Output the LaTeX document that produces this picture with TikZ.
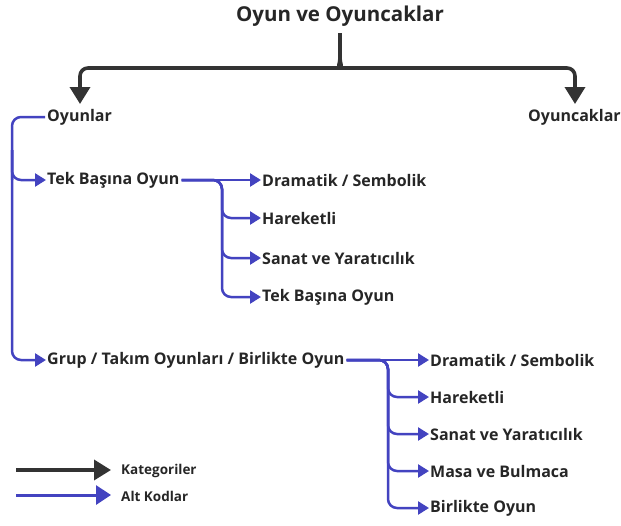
\documentclass[tikz,border=0pt]{standalone}
\usepackage{fontspec}
\setmainfont{Open Sans}
\usetikzlibrary{arrows.meta}
\definecolor{catcol}{HTML}{333333}
\definecolor{subcol}{HTML}{4343C0}
\tikzset{
  lbl/.style={anchor=west, inner sep=0pt, font=\bfseries\fontsize{16}{18}\selectfont, text=black!85},
  ttl/.style={inner sep=0pt, font=\bfseries\fontsize{20.5}{24}\selectfont, text=black!85},
  leg/.style={anchor=west, inner sep=0pt, font=\bfseries\fontsize{13.5}{15}\selectfont, text=black!85},
  catarrow/.style={draw=catcol, line width=3.6pt, rounded corners=8pt, -{Triangle[length=17pt,width=20pt]}},
  catline/.style={draw=catcol, line width=3.6pt},
  subarrow/.style={draw=subcol, line width=2.5pt, rounded corners=9pt, -{Triangle[length=11pt,width=13pt]}},
  subline/.style={draw=subcol, line width=2.5pt, rounded corners=9pt}
}
\begin{document}
\begin{tikzpicture}[x=1pt,y=-1pt]
\useasboundingbox (0,0) rectangle (621,525);
% nodes
\node[ttl] (root) at (340,16) {Oyun ve Oyuncaklar};
\node[lbl] (oyunlar) at (47,117) {Oyunlar};
\node[lbl] (oyuncak) at (528,117) {Oyuncaklar};
\coordinate (oyunlarTop) at (80,104);
\coordinate (oyuncakTop) at (575,104);
\node[lbl] (tek) at (47,180) {Tek Başına Oyun};
\node[lbl] (grup) at (47,360) {Grup / Takım Oyunları / Birlikte Oyun};
\node[lbl] (t1) at (262,180) {Dramatik / Sembolik};
\node[lbl] (t2) at (262,218) {Hareketli};
\node[lbl] (t3) at (262,258) {Sanat ve Yaratıcılık};
\node[lbl] (t4) at (262,297) {Tek Başına Oyun};
\node[lbl] (g1) at (430,360) {Dramatik / Sembolik};
\node[lbl] (g2) at (430,397) {Hareketli};
\node[lbl] (g3) at (430,434) {Sanat ve Yaratıcılık};
\node[lbl] (g4) at (430,471) {Masa ve Bulmaca};
\node[lbl] (g5) at (430,508) {Birlikte Oyun};
\node[leg] (kat) at (121,471) {Kategoriler};
\node[leg] (alt) at (121,496) {Alt Kodlar};
\coordinate (k0) at (16,470);
\coordinate (a0) at (16,495);
% category connectors
\draw[catline] (340,33) -- (340,60);
\draw[catarrow] (340,58) to[out=-90,in=0] (332,68) -- (80,68) -- (oyunlarTop);
\draw[catarrow] (340,58) to[out=-90,in=180] (348,68) -- (575,68) -- (oyuncakTop);
% sub connectors
\draw[subline] ([xshift=-2pt]oyunlar.west) -- (12,117) -- (12,180);
\draw[subarrow] (12,150) |- ([xshift=-1pt]tek.west);
\draw[subarrow] (12,150) |- ([xshift=-1pt]grup.west);
\draw[subarrow] ([xshift=2pt]tek.east) -- ([xshift=-1pt]t1.west);
\draw[subarrow] ([xshift=2pt]tek.east) -- (222,180) |- ([xshift=-1pt]t2.west);
\draw[subarrow] ([xshift=2pt]tek.east) -- (222,180) |- ([xshift=-1pt]t3.west);
\draw[subarrow] ([xshift=2pt]tek.east) -- (222,180) |- ([xshift=-1pt]t4.west);
\draw[subarrow] ([xshift=2pt]grup.east) -- ([xshift=-1pt]g1.west);
\draw[subarrow] ([xshift=2pt]grup.east) -- (388,360) |- ([xshift=-1pt]g2.west);
\draw[subarrow] ([xshift=2pt]grup.east) -- (388,360) |- ([xshift=-1pt]g3.west);
\draw[subarrow] ([xshift=2pt]grup.east) -- (388,360) |- ([xshift=-1pt]g4.west);
\draw[subarrow] ([xshift=2pt]grup.east) -- (388,360) |- ([xshift=-1pt]g5.west);
% legend
\draw[catarrow] (k0) -- ([xshift=-10pt,yshift=1pt]kat.west);
\draw[subarrow, line width=3pt, -{Triangle[length=15pt,width=19pt]}] (a0) -- ([xshift=-10pt,yshift=1pt]alt.west);
\end{tikzpicture}
\end{document}
